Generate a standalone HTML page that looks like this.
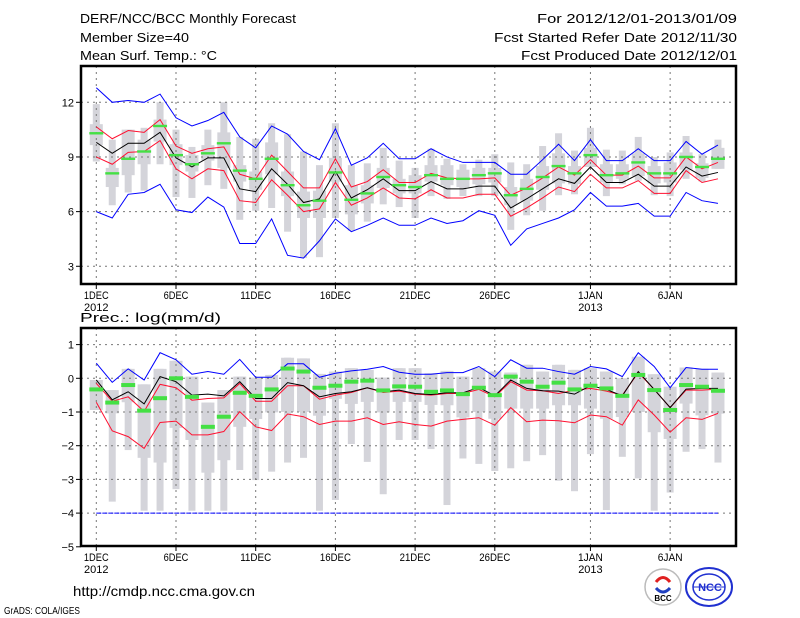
<!DOCTYPE html>
<html><head><meta charset="utf-8"><style>
html,body{margin:0;padding:0;background:#fff;width:800px;height:618px;overflow:hidden}
svg text{font-family:"Liberation Sans",sans-serif;fill:#000}
</style></head><body>
<svg id="chart" width="800" height="618" viewBox="0 0 800 618" xmlns="http://www.w3.org/2000/svg">
<g font-size="13">
<text x="80" y="23" textLength="216" lengthAdjust="spacingAndGlyphs">DERF/NCC/BCC Monthly Forecast</text>
<text x="80" y="42" textLength="109" lengthAdjust="spacingAndGlyphs">Member Size=40</text>
<text x="80" y="60" textLength="137" lengthAdjust="spacingAndGlyphs">Mean Surf. Temp.: °C</text>
<text x="737" y="23" text-anchor="end" textLength="200" lengthAdjust="spacingAndGlyphs">For 2012/12/01-2013/01/09</text>
<text x="737" y="42" text-anchor="end" textLength="243" lengthAdjust="spacingAndGlyphs">Fcst Started Refer Date 2012/11/30</text>
<text x="737" y="60" text-anchor="end" textLength="216" lengthAdjust="spacingAndGlyphs">Fcst Produced Date 2012/12/01</text>
<text x="80" y="322" textLength="141" lengthAdjust="spacingAndGlyphs">Prec.: log(mm/d)</text>
<text x="73" y="596" font-size="14" textLength="182" lengthAdjust="spacingAndGlyphs">http://cmdp.ncc.cma.gov.cn</text>
<text x="4" y="614" font-size="10" textLength="76" lengthAdjust="spacingAndGlyphs">GrADS: COLA/IGES</text>
</g>
<g>
<circle cx="663" cy="587" r="18" fill="#fff" stroke="#bbb" stroke-width="1.5"/>
<path d="M656 582 q7 -9 14 0" fill="none" stroke="#e02020" stroke-width="3"/>
<path d="M656 588 q7 8 14 0" fill="none" stroke="#2040c0" stroke-width="3"/>
<text x="663" y="601" font-size="8" text-anchor="middle" font-family="Liberation Serif" font-weight="bold">BCC</text>
</g>
<g>
<ellipse cx="709" cy="587" rx="23" ry="19" fill="#fff" stroke="#2030d0" stroke-width="2"/>
<ellipse cx="709" cy="587" rx="16" ry="13" fill="none" stroke="#2030d0" stroke-width="1.5"/>
<line x1="693" y1="587" x2="725" y2="587" stroke="#2030d0"/>
<text x="710" y="591" font-size="11" text-anchor="middle" font-weight="bold" style="fill:#2030d0">NCC</text>
</g>
<g id="top"></g>
<g id="bot"></g>
</svg>
<script>
const days = [0,1,2,3,4,5,6,7,8,9,10,11,12,13,14,15,16,17,18,19,20,21,22,23,24,25,26,27,28,29,30,31,32,33,34,35,36,37,38,39];
const tickDays = [0,5,10,15,20,25,31,36];
const tickLabels = ["1DEC","6DEC","11DEC","16DEC","21DEC","26DEC","1JAN","6JAN"];
const tickYears = ["2012","","","","","","2013",""];
const tTicks = [3,6,9,12];
const pTicks = [1,0,-1,-2,-3,-4,-5];

const tBlueHi = [12.8,12,12.1,12,12.45,11.15,10.7,11,11.45,10.1,9.5,10.7,10.25,9.3,8.85,10.55,8.55,8.95,9.75,8.9,8.9,9.45,9.0,8.7,8.7,8.7,8.05,8.05,8.85,9.7,8.8,9.95,8.8,8.8,9.45,8.8,8.8,9.85,9.15,9.65];
const tBlueLo = [6,5.65,6.95,7.05,7.5,6.1,5.95,6.8,6.25,4.25,4.25,5.6,3.6,3.45,4.4,5.6,4.9,5.25,5.65,5.25,5.25,5.65,5.35,5.5,6.05,5.8,4.15,5.05,5.35,5.65,6.1,7.05,6.3,6.3,6.45,5.75,5.75,7.05,6.6,6.45];
const tRedHi = [10.65,10,10.45,10.35,11.05,9.6,9.2,9.45,9.55,8.05,7.8,9.1,8.2,7.3,7.3,8.9,7.35,7.65,8.3,7.6,7.6,8.1,7.85,7.8,7.8,7.85,6.9,7.3,7.85,8.45,8.0,8.85,8.0,8.0,8.5,7.85,7.85,9.0,8.35,8.7];
const tMean = [9.8,9.2,9.75,9.75,10.35,8.95,8.45,8.95,8.95,7.25,7.1,8.35,7.5,6.5,6.7,8.2,6.75,7.2,7.8,7.15,7.15,7.65,7.25,7.25,7.4,7.4,6.2,6.7,7.25,7.8,7.55,8.45,7.6,7.6,8.05,7.4,7.4,8.45,7.95,8.15];
const tRedLo = [9.0,8.6,9.25,9.3,9.9,8.35,7.8,8.35,8.25,6.6,6.5,7.75,6.9,6.0,6.15,7.6,6.35,6.75,7.3,6.75,6.7,7.2,6.75,6.75,6.95,6.95,5.75,6.2,6.75,7.35,7.1,8.05,7.3,7.3,7.7,7.0,7.0,8.25,7.6,7.8];
const tGreen = [10.3,8.1,8.9,9.3,10.7,9.1,8.6,9.2,9.75,8.25,7.8,8.9,7.45,6.35,6.6,8.15,6.65,7.0,7.9,7.45,7.35,8.0,7.8,7.8,8.0,8.1,6.9,7.25,7.9,8.5,8.1,9.1,8.0,8.1,8.7,8.1,8.1,9.0,8.45,8.9];
const tMax = [11.9,9.95,10.5,10.6,12,10.5,9.55,10.5,12,10.1,10,10.85,10.25,9.3,8.55,10.85,8.55,8.65,9.5,8.8,8.4,9.45,8.9,8.6,8.85,9.15,8.7,8.6,9.6,10.3,9.35,10.6,9.4,9.35,10.1,9.0,9.25,10.15,9.15,9.95];
const tQ3 = [10.8,8.4,10.5,9.95,11.05,9.7,9.1,9.65,10.35,8.55,8.2,9.8,8.2,7.1,7.15,8.95,7.45,7.45,8.4,7.8,8.0,8.55,8.55,8.3,8.4,8.4,7.35,7.8,8.5,9.2,8.5,9.5,8.6,8.6,9.2,8.5,8.7,9.25,8.65,9.5];
const tQ1 = [9.65,7.35,8.0,8.6,9.85,8.55,8.2,8.8,8.4,7.65,7.2,8.05,6.85,5.65,5.65,7.65,5.85,6.45,7.3,7.0,7.0,7.65,7.45,7.35,7.5,7.6,6.35,6.6,7.2,7.55,7.5,8.45,7.6,7.8,7.95,7.55,7.6,8.3,7.85,8.35];
const tMin = [8.75,6.35,7.05,7.15,8.6,6.8,6.75,7.45,7.25,5.55,6.05,6.2,4.9,3.45,3.5,5.65,4.95,5.45,6.4,6.25,5.65,6.85,6.7,6.85,6.85,6.85,5.0,5.8,6.05,6.9,6.95,8.45,6.85,7.5,7.7,6.9,6.85,7.8,7.65,8.35];

const pBlue = [0.45,-0.12,0.28,-0.05,0.76,0.55,0.12,0.2,0.12,0.56,0.03,0.03,0.43,0.43,0.03,0.15,0.22,0.27,0.35,0.18,0.12,0.12,0.17,0.17,0.35,0.05,0.55,0.3,0.3,0.2,0.12,0.35,0.28,0.05,0.76,0.35,-0.28,0.32,0.27,0.27];
const pMean = [-0.05,-0.64,-0.4,-0.76,0.05,-0.1,-0.5,-0.47,-0.52,-0.1,-0.6,-0.6,-0.13,-0.22,-0.55,-0.45,-0.4,-0.28,-0.4,-0.35,-0.45,-0.48,-0.43,-0.43,-0.27,-0.52,-0.05,-0.3,-0.37,-0.38,-0.47,-0.22,-0.33,-0.52,0.2,-0.33,-0.87,-0.32,-0.3,-0.3];
const pRedHi = [-0.15,-0.68,-0.55,-0.98,-0.18,-0.28,-0.65,-0.6,-0.58,-0.15,-0.68,-0.68,-0.22,-0.22,-0.62,-0.5,-0.42,-0.28,-0.42,-0.38,-0.47,-0.5,-0.45,-0.45,-0.33,-0.55,-0.1,-0.35,-0.37,-0.45,-0.35,-0.3,-0.38,-0.5,0.17,-0.33,-0.87,-0.35,-0.35,-0.32];
const pRedLo = [-0.71,-1.56,-1.73,-2.08,-1.31,-1.27,-1.68,-1.68,-1.58,-0.99,-1.44,-1.55,-1.06,-1.14,-1.37,-1.27,-1.27,-1.17,-1.37,-1.29,-1.37,-1.42,-1.27,-1.22,-1.17,-1.39,-0.87,-1.29,-1.24,-1.26,-1.32,-1.09,-1.14,-1.39,-0.64,-1.09,-1.6,-1.17,-1.22,-1.04];
const pGreen = [-0.33,-0.72,-0.2,-0.96,-0.59,0.0,-0.55,-1.44,-1.14,-0.43,-0.52,-0.33,0.29,0.2,-0.28,-0.22,-0.1,-0.07,-0.36,-0.24,-0.25,-0.4,-0.36,-0.47,-0.28,-0.5,0.05,-0.1,-0.25,-0.13,-0.33,-0.22,-0.3,-0.52,0.1,-0.35,-0.94,-0.2,-0.25,-0.37];
const pMax = [-0.05,-0.35,0.28,-0.18,0.28,0.52,0.05,-0.72,-0.35,0.05,0.02,0.1,0.61,0.59,0.13,0.2,0.3,0.25,0.02,0.3,0.3,0.15,0.22,0.05,0.3,0.2,0.17,0.4,0.2,0.4,0.25,0.3,0.2,0,0.64,0.12,-0.25,0.32,0.28,0.17];
const pQ1 = [-0.94,-1.04,-0.71,-2.36,-2.5,-1.47,-1.83,-2.8,-2.43,-1.44,-1.21,-1.01,-1.0,-1.0,-1.11,-0.61,-0.76,-0.7,-1.01,-0.7,-0.7,-0.79,-0.8,-1.16,-1.0,-1.2,-0.9,-0.9,-0.9,-0.8,-0.8,-0.9,-1.2,-1.15,-1.0,-1.6,-1.8,-0.75,-1.1,-1.05];
const pMin = [-0.94,-3.66,-2.13,-3.93,-3.93,-3.29,-3.93,-3.93,-3.93,-2.72,-3.02,-2.77,-2.5,-2.36,-3.93,-3.61,-1.95,-2.48,-3.44,-1.83,-1.83,-2.1,-3.76,-2.38,-2.54,-2.75,-2.67,-2.46,-2.28,-3.04,-3.35,-2.25,-3.91,-2.33,-2.97,-3.93,-3.39,-2.18,-2.1,-2.5];
const pFloor = -4;

const NS = "http://www.w3.org/2000/svg";
const L = 81, R = 736;
const xs = i => 96.3 + 15.94 * i;
const yT = v => 102.3 + (12 - v) * 18.22;
const yB = v => 378.3 - 33.7 * v;

function mk(parent, tag, attrs) {
  const e = document.createElementNS(NS, tag);
  for (const k in attrs) e.setAttribute(k, attrs[k]);
  parent.appendChild(e);
  return e;
}

function panel(g, name, top, bot, ys, ticks, tickLabelFn) {
  const grid = mk(g, 'g', {});
  
  
  tickDays.forEach(d => mk(grid, 'line', {x1: xs(d), x2: xs(d), y1: top, y2: bot, stroke: '#777', 'stroke-dasharray': '2,4', 'stroke-width': 1}));
  ticks.forEach(t => { const y = ys(t); if (y > top + 2 && y < bot - 2) mk(grid, 'line', {x1: L, x2: R, y1: y, y2: y, stroke: '#777', 'stroke-dasharray': '2,4', 'stroke-width': 1}); });
  const yax = mk(g, 'g', {});
  
  
  ticks.forEach(t => {
    const y = ys(t);
    mk(yax, 'line', {x1: L - 5, x2: L, y1: y, y2: y, stroke: '#000'});
    const tx = mk(yax, 'text', {x: L - 7, y: y + 4, 'text-anchor': 'end', 'font-size': 11});
    tx.textContent = tickLabelFn(t);
  });
  const xax = mk(g, 'g', {});
  
  
  tickDays.forEach((d, k) => {
    mk(xax, 'line', {x1: xs(d), x2: xs(d), y1: bot, y2: bot + 5, stroke: '#000'});
    const t1 = mk(xax, 'text', {x: xs(d), y: bot + 15, 'text-anchor': 'middle', 'font-size': 11, textLength: tickLabels[k].length * 6.2, lengthAdjust: 'spacingAndGlyphs'});
    t1.textContent = tickLabels[k];
    if (tickYears[k]) {
      const t2 = mk(xax, 'text', {x: xs(d), y: bot + 27, 'text-anchor': 'middle', 'font-size': 11});
      t2.textContent = tickYears[k];
    }
  });
}

function poly(g, name, arr, ys, color, w, dash) {
  const p = mk(g, 'polyline', {points: arr.map((v, i) => xs(i) + ',' + ys(v)).join(' '), fill: 'none', stroke: color, 'stroke-width': w || 1});
  if (dash) p.setAttribute('stroke-dasharray', dash);
  
  
}

// TOP PANEL
const gt = document.getElementById('top');


const tTop = 66, tBot = 284;
const boxesT = mk(gt, 'g', {});


days.forEach(i => {
  const w1 = mk(boxesT, 'rect', {x: xs(i) - 3.5, y: yT(tMax[i]), width: 7, height: yT(tMin[i]) - yT(tMax[i]), fill: '#d4d4da'});
  
  
  const b = mk(boxesT, 'rect', {x: xs(i) - 6.5, y: yT(tQ3[i]), width: 13, height: yT(tQ1[i]) - yT(tQ3[i]), fill: '#d4d4da'});
  
  
});
panel(gt, 'temperature', tTop, tBot, yT, tTicks, t => String(t));
poly(gt, 'temp-max-line', tBlueHi, yT, '#0000ff');
poly(gt, 'temp-min-line', tBlueLo, yT, '#0000ff');
poly(gt, 'temp-upper-line', tRedHi, yT, '#ff1030');
poly(gt, 'temp-lower-line', tRedLo, yT, '#ff1030');
poly(gt, 'temp-mean-line', tMean, yT, '#000');
days.forEach(i => {
  const r = mk(gt, 'rect', {x: xs(i) - 7, y: yT(tGreen[i]) - 1.2, width: 14, height: 2.4, fill: '#44e044'});
  
  
});
const ft = mk(gt, 'rect', {x: L, y: tTop, width: R - L, height: tBot - tTop, fill: 'none', stroke: '#000', 'stroke-width': 2.5});



// BOTTOM PANEL
const gb = document.getElementById('bot');


const bTop = 328, bBot = 546;
const boxesB = mk(gb, 'g', {});


days.forEach(i => {
  const w1 = mk(boxesB, 'rect', {x: xs(i) - 3.5, y: yB(pMax[i]), width: 7, height: yB(pMin[i]) - yB(pMax[i]), fill: '#d4d4da'});
  
  
  const b = mk(boxesB, 'rect', {x: xs(i) - 6.5, y: yB(pMax[i]), width: 13, height: yB(pQ1[i]) - yB(pMax[i]), fill: '#d4d4da'});
  
  
});
panel(gb, 'precipitation', bTop, bBot, yB, pTicks, t => String(t).replace('-', '\u2212'));
poly(gb, 'precip-floor-line', days.map(() => pFloor), yB, '#0000ff', 1, '5,1');
poly(gb, 'precip-max-line', pBlue, yB, '#0000ff');
poly(gb, 'precip-upper-line', pRedHi, yB, '#ff1030');
poly(gb, 'precip-lower-line', pRedLo, yB, '#ff1030');
poly(gb, 'precip-mean-line', pMean, yB, '#000');
days.forEach(i => {
  const r = mk(gb, 'rect', {x: xs(i) - 7, y: yB(pGreen[i]) - 2, width: 14, height: 4, fill: '#44e044'});
  
  
});
const fb = mk(gb, 'rect', {x: L, y: bTop, width: R - L, height: bBot - bTop, fill: 'none', stroke: '#000', 'stroke-width': 2.5});


</script>
</body></html>
